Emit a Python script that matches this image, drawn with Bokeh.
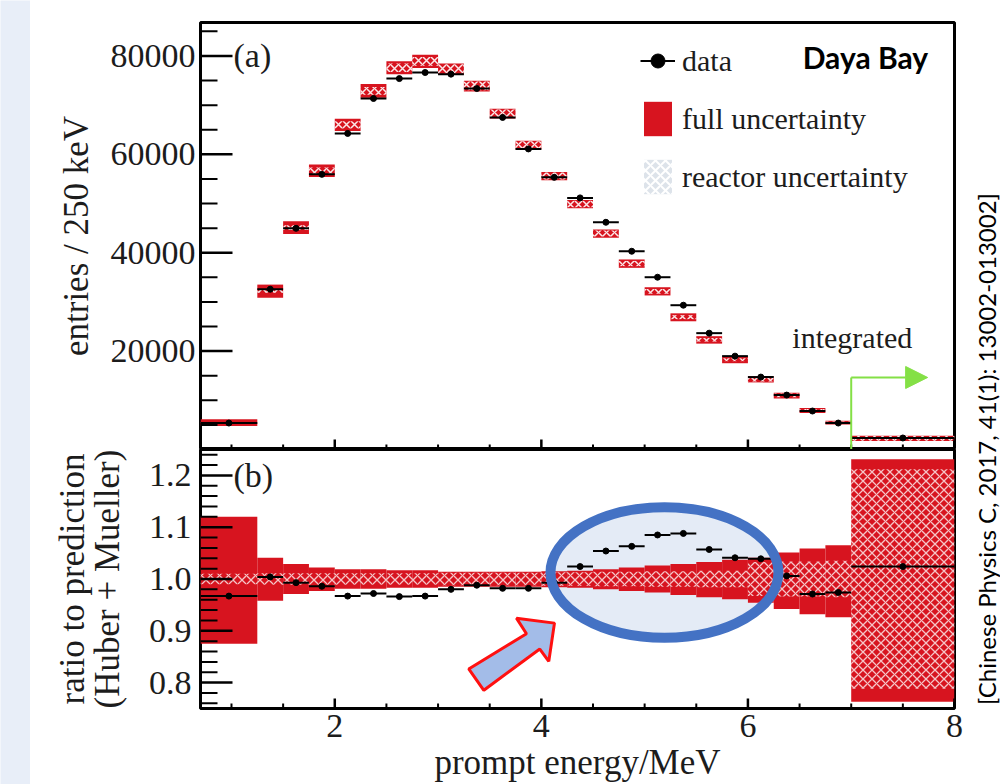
import math
from bokeh.plotting import figure
from bokeh.layouts import row, column
from bokeh.models import (FixedTicker, PrintfTickFormatter, ColumnDataSource, Legend,
                          LegendItem, Range1d, Arrow, NormalHead)
from bokeh.core.properties import value
from bokeh.embed import file_html
from bokeh.resources import INLINE

# ---------------- data ----------------
bin_edges = [0.7, 1.25, 1.5, 1.75, 2.0, 2.25, 2.5, 2.75, 3.0, 3.25, 3.5, 3.75, 4.0,
             4.25, 4.5, 4.75, 5.0, 5.25, 5.5, 5.75, 6.0, 6.25, 6.5, 6.75, 7.0, 8.0]
data_counts = [5380, 32580, 44960, 55930, 64250, 71350, 75400, 76630, 76300, 73380,
               67500, 61100, 55320, 51150, 46190, 40300, 35020, 29330, 23650, 18980,
               14720, 11060, 7820, 5380, 2340]
pred_counts = [5480, 32200, 45100, 56700, 66000, 72900, 77600, 78900, 77400, 73900,
               68300, 61900, 55600, 49900, 43900, 37800, 32150, 26900, 22300, 18250,
               14300, 11000, 7950, 5480, 2250]
ratio = [0.967, 1.004, 0.993, 0.986, 0.967, 0.972, 0.966, 0.967, 0.980, 0.988,
         0.982, 0.982, 0.993, 1.024, 1.054, 1.063, 1.085, 1.088, 1.057, 1.041,
         1.039, 1.006, 0.971, 0.974, 1.024]
full_hi = [1.120, 1.041, 1.029, 1.022, 1.019, 1.019, 1.017, 1.017, 1.014, 1.014,
           1.014, 1.014, 1.015, 1.016, 1.019, 1.022, 1.026, 1.029, 1.033, 1.037,
           1.041, 1.051, 1.059, 1.065, 1.231]
full_lo = [0.875, 0.958, 0.971, 0.977, 0.981, 0.981, 0.983, 0.983, 0.985, 0.985,
           0.985, 0.985, 0.984, 0.983, 0.980, 0.977, 0.974, 0.969, 0.965, 0.961,
           0.954, 0.942, 0.932, 0.926, 0.763]
reactor_unc = [0.010, 0.011, 0.011, 0.011, 0.011, 0.011, 0.011, 0.011, 0.012, 0.012,
               0.012, 0.012, 0.013, 0.013, 0.014, 0.014, 0.015, 0.015, 0.016, 0.016,
               0.033, 0.034, 0.034, 0.035, 0.212]

x_major = [2, 4, 6, 8]
x_minor = [1.0, 1.5, 2.5, 3.0, 3.5, 4.5, 5.0, 5.5, 6.5, 7.0, 7.5]
top_major = [20000, 40000, 60000, 80000]
top_minor = [5000, 10000, 15000, 25000, 30000, 35000, 45000, 50000, 55000,
             65000, 70000, 75000, 85000]
ratio_major = [0.8, 0.9, 1.0, 1.1, 1.2]
ratio_minor = [0.76, 0.78, 0.82, 0.84, 0.86, 0.88, 0.92, 0.94, 0.96, 0.98,
               1.02, 1.04, 1.06, 1.08, 1.12, 1.14, 1.16, 1.18, 1.22, 1.24]

SERIF = "Liberation Serif"
RED = "#d7141f"
GREEN = "#84e046"
TXT = "#1c1c1c"

X0, X1 = 0.7, 8.0
TOP_Y = (0, 86800)
BOT_Y = (0.75, 1.25)
FRAME_W = 754
TOP_H = 427
BOT_H = 260

left = list(bin_edges[:-1])
right = list(bin_edges[1:])
mid = [(a + b) / 2 for a, b in zip(left, right)]

src_top = ColumnDataSource(dict(
    left=list(left), right=list(right), mid=list(mid), data=list(data_counts),
    fb=[p * l for p, l in zip(pred_counts, full_lo)],
    ft=[p * h for p, h in zip(pred_counts, full_hi)],
    rb=[p * (1 - r) for p, r in zip(pred_counts, reactor_unc)],
    rt=[p * (1 + r) for p, r in zip(pred_counts, reactor_unc)],
))
src_bot = ColumnDataSource(dict(
    left=list(left), right=list(right), mid=list(mid), ratio=list(ratio),
    fb=list(full_lo), ft=list(full_hi),
    rb=[1 - r for r in reactor_unc], rt=[1 + r for r in reactor_unc],
))

xr = Range1d(X0, X1)


def style_axis(ax):
    ax.axis_line_color = None
    ax.major_tick_line_color = None
    ax.minor_tick_line_color = None
    ax.major_tick_in = 0
    ax.major_tick_out = 0
    ax.minor_tick_in = 0
    ax.minor_tick_out = 0
    ax.major_label_text_font = SERIF
    ax.major_label_text_font_size = "34px"
    ax.major_label_text_color = TXT
    ax.axis_label_text_font = SERIF
    ax.axis_label_text_font_size = "35px"
    ax.axis_label_text_font_style = "normal"
    ax.axis_label_text_color = TXT


def inner_ticks(p, y_major, y_minor, yr, frame_h):
    # inward tick marks along the left and bottom frame edges
    px_x = (X1 - X0) / FRAME_W          # data units per pixel along x
    px_y = (yr[1] - yr[0]) / frame_h    # data units per pixel along y
    xs, ys, ws = [], [], []
    for vals, length, w in [(y_major, 32, 2.5), (y_minor, 17, 2.0)]:
        for v in vals:
            xs.append([X0, X0 + length * px_x])
            ys.append([float(v), float(v)])
            ws.append(w)
    for vals, length, w in [(x_major, 10, 2.5), (x_minor, 5, 2.0)]:
        for v in vals:
            xs.append([float(v), float(v)])
            ys.append([yr[0], yr[0] + length * px_y])
            ws.append(w)
    src = ColumnDataSource(dict(xs=xs, ys=ys, w=ws))
    p.multi_line(xs="xs", ys="ys", line_width="w", source=src, line_color="black")


# ---------------- top panel ----------------
top = figure(width=935, height=449, x_range=xr, y_range=Range1d(*TOP_Y),
             output_backend="svg", toolbar_location=None, x_axis_location=None,
             min_border_left=170, min_border_right=11, min_border_top=22,
             min_border_bottom=0)
top.grid.visible = False
top.outline_line_color = "black"
top.outline_line_width = 3

ya = top.yaxis[0]
style_axis(ya)
ya.ticker = FixedTicker(ticks=list(top_major), minor_ticks=list(top_minor))
ya.major_label_standoff = 5
ya.axis_label = "entries / 250 keV"
ya.axis_label_standoff = 12

full_r = top.quad(left="left", right="right", bottom="fb", top="ft", source=src_top,
                  fill_color=RED, line_color=None)
top.quad(left="left", right="right", bottom="rb", top="rt", source=src_top,
         fill_color=None, line_color=None, hatch_pattern="x", hatch_color="white",
         hatch_weight=1.5, hatch_scale=8, hatch_alpha=0.9)
seg_r = top.segment(x0="left", x1="right", y0="data", y1="data", source=src_top,
                    line_color="black", line_width=2)
dot_r = top.scatter("mid", "data", source=src_top, size=6, color="black")
inner_ticks(top, top_major, top_minor, TOP_Y, TOP_H)

# legend-only swatch for the reactor uncertainty (placed outside the visible range)
react_leg = top.quad(left=[-3], right=[-2], bottom=[0], top=[1], fill_color="#dde3ea",
                     line_color=None, hatch_pattern="x", hatch_color="white",
                     hatch_weight=2, hatch_scale=10)

legend = Legend(items=[LegendItem(label="data", renderers=[seg_r, dot_r]),
                       LegendItem(label="full uncertainty", renderers=[full_r]),
                       LegendItem(label="reactor uncertainty", renderers=[react_leg])],
                location=(440, 251), glyph_width=35, glyph_height=43, spacing=15,
                padding=0, margin=0, label_standoff=7, label_height=43,
                label_text_font=SERIF, label_text_font_size="30px",
                label_text_color=TXT, border_line_color=None,
                background_fill_alpha=0)
top.add_layout(legend)

top.text(x=[1.02], y=[80000], text=["(a)"], text_font=value(SERIF),
         text_font_size="34px", text_baseline="middle", text_align="left",
         text_color=TXT)
top.text(x=[6.53], y=[79700], text=["Daya Bay"], text_font=value("Lato"),
         text_font_style="bold", text_font_size="30px", text_baseline="alphabetic",
         text_align="left", text_color="black")
top.text(x=[6.43], y=[22800], text=["integrated"], text_font=value(SERIF),
         text_font_size="30px", text_baseline="alphabetic", text_align="left",
         text_color=TXT)
top.segment(x0=[7.0], y0=[0], x1=[7.0], y1=[14640], line_color=GREEN, line_width=2)
top.add_layout(Arrow(end=NormalHead(size=22, fill_color=GREEN, line_color=GREEN),
                     x_start=7.0, y_start=14640, x_end=7.74, y_end=14640,
                     line_color=GREEN, line_width=2))

# ---------------- bottom panel ----------------
bot = figure(width=935, height=335, x_range=xr, y_range=Range1d(*BOT_Y),
             output_backend="svg", toolbar_location=None,
             min_border_left=170, min_border_right=11, min_border_top=0,
             min_border_bottom=75)
bot.grid.visible = False
bot.outline_line_color = "black"
bot.outline_line_width = 3

yb = bot.yaxis[0]
style_axis(yb)
yb.ticker = FixedTicker(ticks=list(ratio_major), minor_ticks=list(ratio_minor))
yb.formatter = PrintfTickFormatter(format="%.1f")
yb.major_label_standoff = 9
yb.axis_label = "ratio to prediction\n(Huber + Mueller)"
yb.axis_label_standoff = 19
yb.axis_label_text_line_height = 0.9

xb = bot.xaxis[0]
style_axis(xb)
xb.ticker = FixedTicker(ticks=list(x_major), minor_ticks=list(x_minor))
xb.major_label_standoff = 6
xb.axis_label = "prompt energy/MeV"
xb.axis_label_standoff = 3

# highlight ellipse (fill underneath)
bot.ellipse(x=[5.192], y=[1.0125], width=2.207, height=0.252,
            fill_color="#e4ebf6", line_color=None)
bot.quad(left="left", right="right", bottom="fb", top="ft", source=src_bot,
         fill_color=RED, line_color=None)
bot.quad(left="left", right="right", bottom="rb", top="rt", source=src_bot,
         fill_color=None, line_color=None, hatch_pattern="x", hatch_color="white",
         hatch_weight=1.3, hatch_scale=9, hatch_alpha=0.75)
bot.segment(x0="left", x1="right", y0="ratio", y1="ratio", source=src_bot,
            line_color="black", line_width=2)
bot.scatter("mid", "ratio", source=src_bot, size=6, color="black")
inner_ticks(bot, ratio_major, ratio_minor, BOT_Y, BOT_H)
bot.ellipse(x=[5.192], y=[1.0125], width=2.207, height=0.252,
            fill_color=None, line_color="#4472c4", line_width=10)
bot.patch(x=[3.297, 3.443, 3.985, 4.072, 4.127, 3.759, 3.856],
          y=[0.8264, 0.7852, 0.8648, 0.8410, 0.9148, 0.9244, 0.8942],
          fill_color="#a3bce8", line_color="#ff1010", line_width=3)
bot.text(x=[1.02], y=[1.2], text=["(b)"], text_font=value(SERIF),
         text_font_size="34px", text_baseline="middle", text_align="left",
         text_color=TXT)

# ---------------- side strips ----------------
strip = figure(width=30, height=784, output_backend="svg", toolbar_location=None,
               x_axis_location=None, y_axis_location=None, min_border=0,
               background_fill_color="#e8eef8", border_fill_color="#e8eef8",
               outline_line_color=None)
strip.grid.visible = False

cite = figure(width=35, height=784, x_range=Range1d(0, 35), y_range=Range1d(0, 784),
              output_backend="svg", toolbar_location=None, x_axis_location=None,
              y_axis_location=None, min_border=0, outline_line_color=None)
cite.grid.visible = False
cite.text(x=[21], y=[335.5], text=["[Chinese Physics C, 2017, 41(1): 13002-013002]"],
          angle=math.pi / 2, text_align="center", text_baseline="middle",
          text_font=value("Lato"), text_font_size="24px", text_color="black")

layout = row(strip, column(top, bot), cite)
open("out.html", "w").write(file_html(layout, INLINE))
